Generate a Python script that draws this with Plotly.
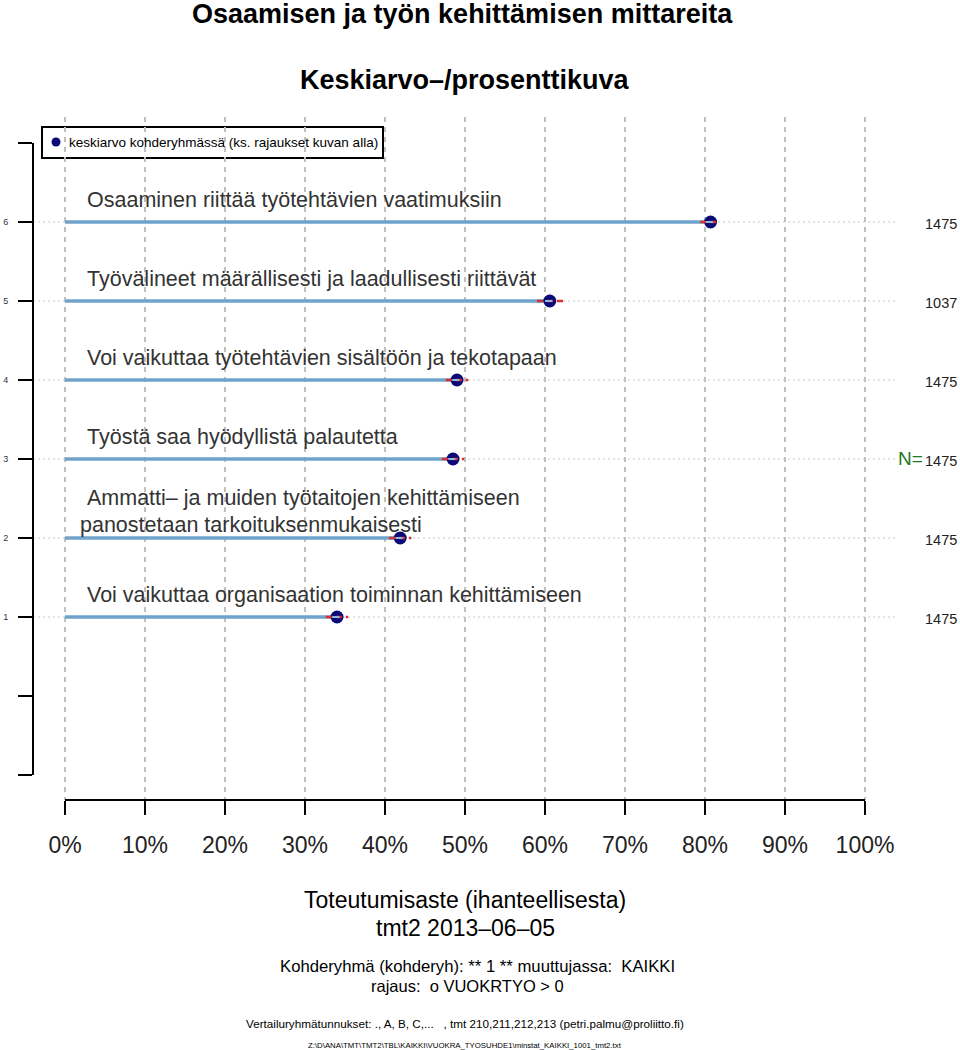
import plotly.graph_objects as go

# ---------------- data ----------------
rows = [1, 2, 3, 4, 5, 6]
labels = [
    "Voi vaikuttaa organisaation toiminnan kehittämiseen",
    "Ammatti– ja muiden työtaitojen kehittämiseen\npanostetaan tarkoituksenmukaisesti",
    "Työstä saa hyödyllistä palautetta",
    "Voi vaikuttaa työtehtävien sisältöön ja tekotapaan",
    "Työvälineet määrällisesti ja laadullisesti riittävät",
    "Osaaminen riittää työtehtävien vaatimuksiin",
]
means = [34.0, 41.9, 48.5, 49.0, 60.6, 80.7]
ci_low = [32.6, 40.5, 47.1, 47.6, 59.0, 79.4]
ci_high = [35.4, 43.3, 49.9, 50.4, 62.3, 81.9]
n_obs = [1475, 1475, 1475, 1475, 1037, 1475]

x_ticks = list(range(0, 101, 10))
x_tick_labels = [f"{v}%" for v in x_ticks]
y_ticks = [-1, 0, 1, 2, 3, 4, 5, 6, 7]
y_tick_labels = ["", "", "1", "2", "3", "4", "5", "6", ""]

legend_text = "keskiarvo kohderyhmässä (ks. rajaukset kuvan alla)"
title1 = "Osaamisen ja työn kehittämisen mittareita"
title2 = "Keskiarvo–/prosenttikuva"
xlab1 = "Toteutumisaste (ihanteellisesta)"
xlab2 = "tmt2 2013–06–05"
sub1 = "Kohderyhmä (kohderyh): ** 1 ** muuttujassa:  KAIKKI"
sub2 = "rajaus:  o VUOKRTYO > 0"
sub3 = "Vertailuryhmätunnukset: ., A, B, C,...   , tmt 210,211,212,213 (petri.palmu@proliitto.fi)"
sub4 = "Z:\\D\\ANA\\TMT\\TMT2\\TBL\\KAIKKI\\VUOKRA_TYOSUHDE1\\minstat_KAIKKI_1001_tmt2.txt"

# ---------------- layout geometry ----------------
W, H = 960, 1050
L, R, T, B = 33, 0, 117, 250
FONT = "Liberation Sans, Arial, Helvetica, sans-serif"


def px(x):
    return (x - L) / (W - L - R)


def py(y):
    return (H - B - y) / (H - T - B)


X_RANGE = [-4, 111.875]
Y_RANGE = [-1.3165, 7.329]

fig = go.Figure()

# blue bars
bx, by = [], []
for r, m in zip(rows, means):
    bx += [0, m, None]
    by += [r, r, None]
fig.add_trace(go.Scatter(x=bx, y=by, mode="lines",
                         line=dict(color="#6fa3cc", width=3.5),
                         hoverinfo="skip", showlegend=False))

# points
fig.add_trace(go.Scatter(x=means, y=rows, mode="markers",
                         marker=dict(color="#0a0a78", size=13,
                                     line=dict(width=0)),
                         showlegend=False))

# confidence intervals (red dashed)
cx, cy = [], []
for r, lo, hi in zip(rows, ci_low, ci_high):
    cx += [lo, hi, None]
    cy += [r, r, None]
fig.add_trace(go.Scatter(x=cx, y=cy, mode="lines",
                         line=dict(color="#d83030", width=2.5, dash="6px,4px"),
                         hoverinfo="skip", showlegend=False))

# light centre stroke through points
sx, sy = [], []
for r, m in zip(rows, means):
    sx += [m - 0.6, m + 0.3, None]
    sy += [r, r, None]
fig.add_trace(go.Scatter(x=sx, y=sy, mode="lines",
                         line=dict(color="#8fb8dc", width=2),
                         hoverinfo="skip", showlegend=False))

# legend marker
fig.add_trace(go.Scatter(x=[(56 - 65) / 8], y=[(696 - 142) / 79], mode="markers",
                         marker=dict(color="#0a0a78", size=9),
                         hoverinfo="skip", showlegend=False))

shapes = []
# horizontal dotted guides
for r in rows:
    shapes.append(dict(type="line", xref="x", yref="y", x0=-4, x1=(896 - 65) / 8,
                       y0=r, y1=r, layer="below",
                       line=dict(color="#c8c8c8", width=1, dash="2px,3px")))
# y axis line
shapes.append(dict(type="line", xref="paper", yref="y", x0=0, x1=0, y0=-1, y1=7,
                   line=dict(color="black", width=2)))
# x axis line
shapes.append(dict(type="line", xref="x", yref="paper", x0=0, x1=100, y0=0, y1=0,
                   line=dict(color="black", width=2)))
# legend box
shapes.append(dict(type="rect", xref="paper", yref="paper",
                   x0=px(42), x1=px(383), y0=py(158), y1=py(127),
                   fillcolor="white", line=dict(color="black", width=2), layer="below"))

ann = []
LX = (85 - 65) / 8
# category labels
for r, lab in zip(rows, labels):
    parts = lab.split("\n")
    if len(parts) == 1:
        ann.append(dict(x=LX, y=r + 22 / 79, xref="x", yref="y",
                        text=parts[0], showarrow=False, xanchor="left", yanchor="middle",
                        font=dict(size=21.5, color="#333333", family=FONT)))
    else:
        ann.append(dict(x=LX, y=r + 40 / 79, xref="x", yref="y",
                        text=parts[0], showarrow=False, xanchor="left", yanchor="middle",
                        font=dict(size=21.5, color="#333333", family=FONT)))
        ann.append(dict(x=(78 - 65) / 8, y=r + 13 / 79, xref="x", yref="y",
                        text=parts[1], showarrow=False, xanchor="left", yanchor="middle",
                        font=dict(size=21.5, color="#333333", family=FONT)))
# N values
for r, n in zip(rows, n_obs):
    ann.append(dict(x=(941 - 65) / 8, y=r - 0.02, xref="x", yref="y",
                    text=str(n), showarrow=False, xanchor="center", yanchor="middle",
                    font=dict(size=14.5, color="#222222", family=FONT)))
ann.append(dict(x=(910 - 65) / 8, y=3, xref="x", yref="y", text="N=",
                showarrow=False, xanchor="center", yanchor="middle",
                font=dict(size=19, color="#1f7a1f", family=FONT)))
# legend text
ann.append(dict(x=px(67), y=py(142), xref="paper", yref="paper", text=legend_text,
                showarrow=False, xanchor="left", yanchor="middle",
                font=dict(size=13.5, color="black", family=FONT)))


def txt(text, cx, cy, size, bold=False, color="black"):
    t = f"<b>{text}</b>" if bold else text
    ann.append(dict(x=px(cx), y=py(cy), xref="paper", yref="paper", text=t,
                    showarrow=False, xanchor="center", yanchor="middle",
                    font=dict(size=size, color=color, family=FONT)))


txt(title1, 462, 14, 27, bold=True)
txt(title2, 465, 80, 27, bold=True)
txt(xlab1, 465, 900, 23)
txt(xlab2, 465, 928, 23)
txt(sub1, 477, 966, 16.7)
txt(sub2, 467, 986, 16.5)
txt(sub3, 465, 1023, 11.7)
txt(sub4, 465, 1045, 7.8)

fig.update_layout(
    width=W, height=H,
    margin=dict(l=L, r=R, t=T, b=B, pad=0),
    paper_bgcolor="white", plot_bgcolor="white",
    font=dict(family=FONT, color="black"),
    shapes=shapes, annotations=ann,
    showlegend=False,
    xaxis=dict(range=X_RANGE, tickvals=x_ticks, ticktext=x_tick_labels,
               showgrid=True, gridcolor="#c0c0c0", gridwidth=1.5, griddash="5px,5px",
               zeroline=False, showline=False,
               ticks="outside", ticklen=14, tickwidth=2, tickcolor="black",
               ticklabelstandoff=10,
               tickfont=dict(size=23, color="#222222", family=FONT),
               fixedrange=True),
    yaxis=dict(range=Y_RANGE, tickvals=y_ticks, ticktext=y_tick_labels,
               showgrid=False, zeroline=False, showline=False,
               ticks="outside", ticklen=14, tickwidth=2, tickcolor="black",
               ticklabelstandoff=8,
               tickfont=dict(size=9, color="#333333", family=FONT),
               fixedrange=True),
)

fig.write_html("out.html")
